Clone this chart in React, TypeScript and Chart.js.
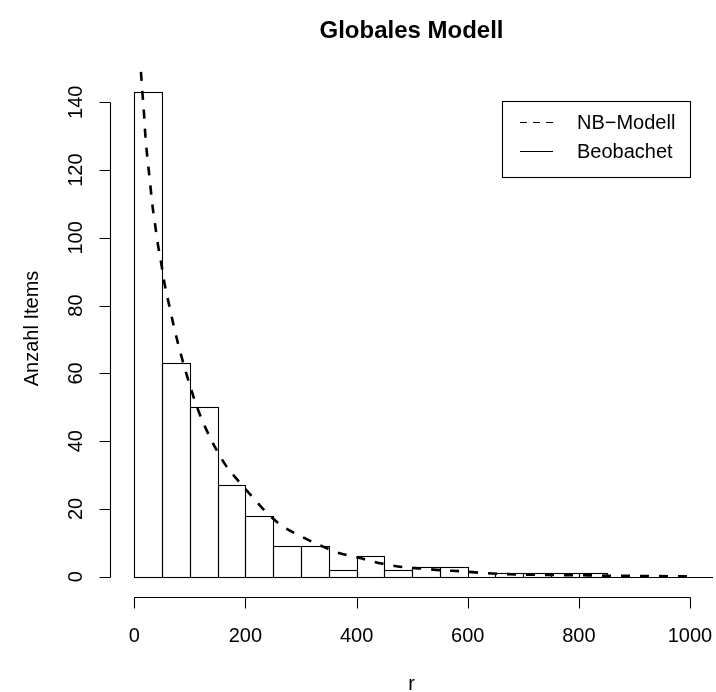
import { useEffect, useRef } from "react";
import { Chart, registerables } from "chart.js";

Chart.register(...registerables);

// ---- data ----
const binStarts = [0, 50, 100, 150, 200, 250, 300, 350, 400, 450, 500, 550, 600, 650, 700, 750, 800, 850, 900, 950];
const binWidth = 50;
const counts = [143, 63, 50, 27, 18, 9, 9, 2, 6, 2, 3, 3, 0, 1, 1, 1, 1, 0, 0, 0];

const modelR = [12, 15, 18, 20, 24, 28, 32, 37, 42, 49, 55, 63, 71, 80, 90, 100, 113, 128, 146, 164, 185, 209, 239, 266, 299, 335, 368, 406, 442, 485, 517, 553, 589, 627, 664, 703, 740, 778, 815, 852, 889, 928, 962, 1000];
const modelY = [149, 142, 135.5, 130, 123, 117, 110.5, 104.5, 98.6, 92, 86, 80, 74, 68, 62, 56.5, 50, 44, 38, 33, 28.7, 24.2, 18.8, 15, 12, 9.2, 7, 5.5, 4, 2.8, 2.4, 1.9, 1.6, 1.1, 0.8, 0.6, 0.55, 0.45, 0.4, 0.3, 0.25, 0.2, 0.15, 0.1];

const xTicks = [0, 200, 400, 600, 800, 1000];
const yTicks = [0, 20, 40, 60, 80, 100, 120, 140];

const titleText = "Globales Modell";
const xLabel = "r";
const yLabel = "Anzahl Items";
const legendLabels = ["NB\u2212Modell", "Beobachet"];

const FONT = "'Liberation Sans', Arial, Helvetica, sans-serif";

const rPlugin = {
  id: "rstyle",
  afterDatasetDraw(chart: any, args: any) {
    if (args.meta.type !== "bar") return;
    const ctx = chart.ctx;
    const xs = chart.scales.x;
    const ys = chart.scales.y;
    ctx.save();
    ctx.strokeStyle = "#000";
    ctx.lineWidth = 1.1;
    args.meta.data.forEach((bar: any, i: number) => {
      if (!counts[i]) return;
      const p = bar.getProps(["x", "y", "base", "width"], true);
      const l = Math.round(p.x - p.width / 2) + 0.5;
      const r = Math.round(p.x + p.width / 2) + 0.5;
      const t = Math.round(p.y) + 0.5;
      const b = Math.round(p.base) + 0.5;
      ctx.strokeRect(l, t, r - l, b - t);
    });
    const y0 = Math.round(ys.getPixelForValue(0)) + 0.5;
    ctx.beginPath();
    ctx.moveTo(Math.round(xs.getPixelForValue(0)), y0);
    ctx.lineTo(chart.chartArea.right, y0);
    ctx.stroke();
    ctx.restore();
  },
  afterDraw(chart: any) {
    const ctx = chart.ctx;
    const xs = chart.scales.x;
    const ys = chart.scales.y;
    const area = chart.chartArea;
    ctx.save();
    ctx.strokeStyle = "#000";
    ctx.fillStyle = "#000";
    ctx.lineWidth = 1.1;

    // x axis
    const ax = Math.round(area.bottom) + 0.5;
    ctx.beginPath();
    ctx.moveTo(Math.round(xs.getPixelForValue(xTicks[0])) + 0.5, ax);
    ctx.lineTo(Math.round(xs.getPixelForValue(xTicks[xTicks.length - 1])) + 0.5, ax);
    xTicks.forEach((v) => {
      const px = Math.round(xs.getPixelForValue(v)) + 0.5;
      ctx.moveTo(px, ax);
      ctx.lineTo(px, ax + 11);
    });
    ctx.stroke();
    ctx.font = `20px ${FONT}`;
    ctx.textAlign = "center";
    ctx.textBaseline = "alphabetic";
    xTicks.forEach((v) => {
      ctx.fillText(String(v), xs.getPixelForValue(v), 642);
    });

    // y axis
    const ay = Math.round(area.left) + 0.5;
    ctx.beginPath();
    ctx.moveTo(ay, Math.round(ys.getPixelForValue(yTicks[0])) + 0.5);
    ctx.lineTo(ay, Math.round(ys.getPixelForValue(yTicks[yTicks.length - 1])) + 0.5);
    yTicks.forEach((v) => {
      const py = Math.round(ys.getPixelForValue(v)) + 0.5;
      ctx.moveTo(ay, py);
      ctx.lineTo(ay - 11, py);
    });
    ctx.stroke();
    yTicks.forEach((v) => {
      ctx.save();
      ctx.translate(82, ys.getPixelForValue(v));
      ctx.rotate(-Math.PI / 2);
      ctx.fillText(String(v), 0, 0);
      ctx.restore();
    });

    // axis titles
    const cx = (area.left + area.right) / 2;
    ctx.fillText(xLabel, cx, 690);
    ctx.save();
    ctx.translate(38, (area.top + area.bottom) / 2);
    ctx.rotate(-Math.PI / 2);
    ctx.fillText(yLabel, 0, 0);
    ctx.restore();

    // title
    ctx.font = `bold 24px ${FONT}`;
    ctx.fillText(titleText, cx, 38);

    // legend
    ctx.lineWidth = 1.1;
    ctx.strokeRect(502.5, 101.5, 188, 76);
    ctx.beginPath();
    ctx.setLineDash([7, 6]);
    ctx.moveTo(520, 122.5);
    ctx.lineTo(553, 122.5);
    ctx.stroke();
    ctx.setLineDash([]);
    ctx.beginPath();
    ctx.moveTo(520, 151.5);
    ctx.lineTo(553, 151.5);
    ctx.stroke();
    ctx.font = `20px ${FONT}`;
    ctx.textAlign = "left";
    ctx.textBaseline = "middle";
    ctx.fillText(legendLabels[0], 577, 123);
    ctx.fillText(legendLabels[1], 577, 152);
    ctx.restore();
  },
};

export default function App() {
  const ref = useRef<HTMLCanvasElement | null>(null);
  useEffect(() => {
    if (!ref.current) return;
    const barData = binStarts.map((s, i) => ({ x: s + binWidth / 2, y: counts[i] }));
    const lineData = modelR.map((r, i) => ({ x: r, y: modelY[i] }));
    const chart = new Chart(ref.current, {
      type: "bar",
      data: {
        datasets: [
          {
            type: "line",
            label: legendLabels[0],
            data: lineData,
            borderColor: "#000",
            borderWidth: 2.6,
            borderDash: [9, 10],
            pointRadius: 0,
            fill: false,
            cubicInterpolationMode: "monotone",
            order: 1,
          } as any,
          {
            type: "bar",
            label: legendLabels[1],
            data: barData,
            backgroundColor: "#fff",
            borderWidth: 0,
            barPercentage: 1,
            categoryPercentage: 1,
            order: 2,
          } as any,
        ],
      },
      options: {
        animation: false,
        responsive: false,
        maintainAspectRatio: false,
        events: [],
        layout: { padding: { left: 110, right: 3, top: 60, bottom: 95 } },
        scales: {
          x: {
            type: "linear",
            min: -43.7,
            max: 1041.4,
            display: false,
            offset: false,
            afterBuildTicks: (scale: any) => {
              scale.ticks = binStarts.map((v) => ({ value: v }));
            },
          },
          y: {
            type: "linear",
            min: -5.99,
            max: 152.48,
            display: false,
          },
        },
        plugins: {
          legend: { display: false },
          tooltip: { enabled: false },
          title: { display: false },
        },
      } as any,
      plugins: [rPlugin],
    });
    return () => chart.destroy();
  }, []);
  return (
    <div style={{ position: "absolute", left: 0, top: 0, width: 716, height: 692, background: "#fff" }}>
      <canvas ref={ref} width={716} height={692} style={{ display: "block" }} />
    </div>
  );
}
